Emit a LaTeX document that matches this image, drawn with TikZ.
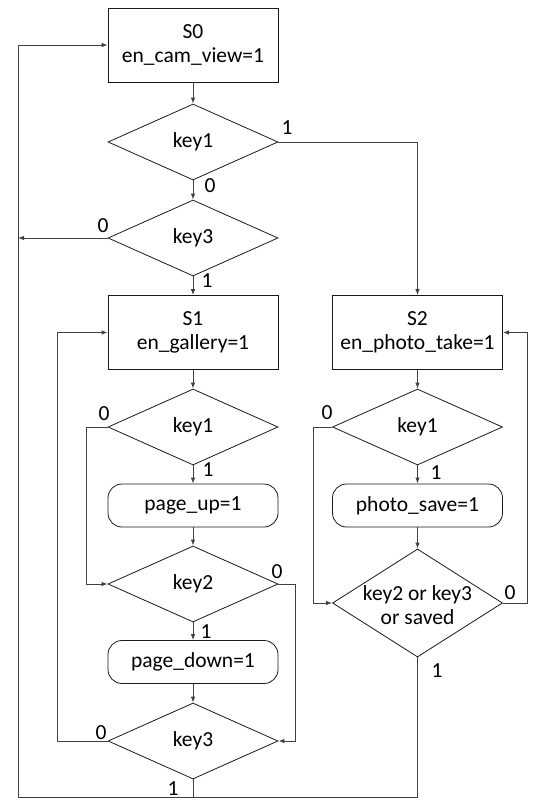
\documentclass[tikz,border=0pt]{standalone}
\usepackage{fontspec}
\setmainfont{Carlito}
\usetikzlibrary{shapes.geometric,arrows.meta}
\begin{document}
\begin{tikzpicture}[x=1pt,y=-1pt,
  every node/.style={font=\fontsize{21.5}{24}\selectfont},
  state/.style={draw=black!90,line width=0.8pt,minimum width=170pt,minimum height=74pt,align=center,inner sep=0pt},
  action/.style={draw=black!90,line width=0.8pt,rounded corners=14pt,minimum width=170pt,minimum height=43pt,inner sep=0pt},
  test/.style={draw=black!90,line width=0.8pt,diamond,minimum width=170pt,minimum height=76pt,inner sep=0pt},
  flow/.style={draw=black!75,line width=0.9pt,-{Latex[length=6pt,width=4.5pt]}},
  wire/.style={draw=black!75,line width=0.9pt},
  tag/.style={inner sep=0pt}]
\useasboundingbox (0,0) rectangle (540,810);

% left column: camera view and gallery
\node[state] (s0) at (193,45) {S0\\en\_cam\_view=1};
\node[test] (a1) at (193,142) {key1};
\node[test] (a3) at (193,238) {key3};
\node[state] (s1) at (193,332.5) {S1\\en\_gallery=1};
\node[test] (b1) at (193,427) {key1};
\node[action] (up) at (193,505.5) {page\_up=1};
\node[test] (b2) at (193,584) {key2};
\node[action] (dn) at (193,662) {page\_down=1};
\node[test] (b3) at (193,741) {key3};

% right column: taking a photo
\node[state] (s2) at (417.5,332.5) {S2\\en\_photo\_take=1};
\node[test] (c1) at (417.5,427) {key1};
\node[action] (save) at (417.5,505.5) {photo\_save=1};
\node[test,minimum height=108pt] (c2) at (417.5,603) {};
\node[align=center,inner sep=0pt] (c2text) at (417.5,605) {key2 or key3\\or saved};

% return trunk on the far left
\coordinate (corner) at (18,797);
\coordinate (trunk) at (18,238);

% connectors
\draw[flow] (s0) -- (a1);
\draw[flow] (a1.east) -| (s2.north);
\draw[flow] (a1) -- (a3);
\draw[flow] (a3.west) -- (trunk);
\draw[flow] (a3) -- (s1);
\draw[flow] (s1) -- (b1);
\draw[flow] (b1) -- (up);
\draw[flow] (up) -- (b2);
\draw[flow] (b2) -- (dn);
\draw[flow] (dn) -- (b3);
\draw[flow] (b1.west) -- ++(-21,0) |- (b2.west);
\draw[flow] (b2.east) -- ++(17,0) |- (b3.east);
\draw[flow] (b3.west) -- ++(-50,0) |- (s1.west);
\draw[flow] (b3.south) |- (corner) |- (s0.west);
\draw[flow] (s2) -- (c1);
\draw[flow] (c1) -- (save);
\draw[flow] (save) -- (c2);
\draw[flow] (c1.west) -- ++(-19,0) |- (c2.west);
\draw[flow] (c2.east) -- ++(25,0) |- (s2.east);
\draw[wire] (c2.south) |- (b3.south |- corner);

% branch values
\node[tag] (l1) at (287,128) {1};
\node[tag] (l2) at (210,186) {0};
\node[tag] (l3) at (103,226) {0};
\node[tag] (l4) at (207,281) {1};
\node[tag] (l5) at (104,414) {0};
\node[tag] (l6) at (208,470) {1};
\node[tag] (l7) at (277,572) {0};
\node[tag] (l8) at (206,632) {1};
\node[tag] (l9) at (101,733) {0};
\node[tag] (l10) at (173,789) {1};
\node[tag] (l11) at (327,413) {0};
\node[tag] (l12) at (436,473) {1};
\node[tag] (l13) at (510,593) {0};
\node[tag] (l14) at (437,671) {1};
\end{tikzpicture}
\end{document}
